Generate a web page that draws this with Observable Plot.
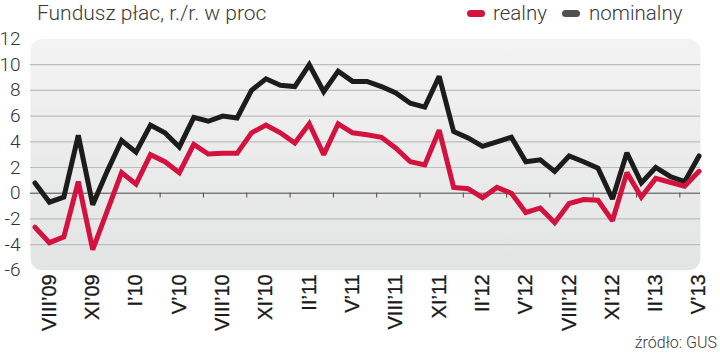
<!DOCTYPE html>
<html><head><meta charset="utf-8">
<script src="https://cdn.jsdelivr.net/npm/d3@7"></script>
<script src="https://cdn.jsdelivr.net/npm/@observablehq/plot@0.6"></script>
<style>
body{margin:0;background:#fff;}
#wrap{position:relative;width:720px;height:354px;overflow:hidden;font-family:Roboto,"Open Sans",sans-serif;font-weight:300;color:#3a3a3a;}
#wrap svg{position:absolute;left:0;top:0;}
.t{position:absolute;white-space:nowrap;line-height:20px;}
#title{left:37px;top:3px;font-size:21px;}
#caption{right:3px;top:335px;font-size:16px;line-height:16px;}
.pill{position:absolute;width:18px;height:7px;border-radius:3.5px;top:10px;}
</style></head><body><div id="wrap"></div>
<script>
// Months: VII'09 .. V'13 (47 monthly points)
const months = d3.utcMonths(new Date(Date.UTC(2009, 6, 1)), new Date(Date.UTC(2013, 5, 1)));
const nominalny = [0.8, -0.7, -0.3, 4.5, -0.9, 1.7, 4.1, 3.2, 5.3, 4.7,
  3.6, 5.9, 5.6, 6.0, 5.85, 8.0, 8.9, 8.4, 8.3, 10.0,
  7.9, 9.5, 8.7, 8.7, 8.3, 7.8, 7.0, 6.7, 9.1, 4.8,
  4.3, 3.65, 4.0, 4.35, 2.45, 2.6, 1.7, 2.9, 2.45, 1.95,
  -0.45, 3.15, 0.8, 2.0, 1.3, 0.9, 2.9];
const realny = [-2.65, -3.85, -3.4, 0.9, -4.4, -1.4, 1.6, 0.7, 3.0, 2.45,
  1.6, 3.8, 3.05, 3.1, 3.1, 4.7, 5.3, 4.7, 3.9, 5.4,
  3.0, 5.4, 4.7, 4.55, 4.35, 3.5, 2.45, 2.2, 4.9, 0.45,
  0.35, -0.35, 0.45, 0.0, -1.5, -1.15, -2.3, -0.8, -0.5, -0.55,
  -2.15, 1.6, -0.3, 1.15, 0.85, 0.55, 1.7];
const tickLabels = ["VIII’09","XI’09","I’10","V’10","VIII’10","XI’10","II’11","V’11",
  "VIII’11","XI’11","II’12","V’12","VIII’12","XI’12","II’13","V’13"];
const tickMonths = ["2009-08","2009-11","2010-02","2010-05","2010-08","2010-11","2011-02","2011-05",
  "2011-08","2011-11","2012-02","2012-05","2012-08","2012-11","2013-02","2013-05"];
const yTicks = [-6, -4, -2, 0, 2, 4, 6, 8, 10, 12];
const series = ["realny", "nominalny"];
const colors = ["#d3123f", "#1c1c1c"];

const monthKey = d => d3.utcFormat("%Y-%m")(d);
const data = [
  ...months.map((m, i) => ({i, v: nominalny[i], s: "nominalny"})),
  ...months.map((m, i) => ({i, v: realny[i], s: "realny"}))
];
const labelData = tickLabels.map((t, k) => ({t, i: months.findIndex(m => monthKey(m) === tickMonths[k])}));
// small tick marks on the zero line, between labelled months
const zeroTicks = labelData.slice(3).map(d => d.i - 1.33);

const plot = Plot.plot({
  width: 720, height: 354,
  marginTop: 38.5, marginBottom: 84.2, marginLeft: 30, marginRight: 20,
  x: {domain: [-0.31, 46.1], axis: null},
  y: {domain: [-6, 12], axis: null},
  color: {domain: series, range: colors},
  style: {background: "transparent", overflow: "visible"},
  marks: [
    Plot.frame({fill: "url(#bg)", stroke: "none", rx: 12}),
    Plot.ruleY(yTicks.filter(d => d !== 0 && d !== -6 && d !== 12), {stroke: "#bdbdbd", strokeWidth: 1.2}),
    Plot.ruleY([0], {stroke: "#4a4a4a", strokeWidth: 1}),
    Plot.ruleX(zeroTicks, {y1: 0, y2: -0.38, stroke: "#4a4a4a", strokeWidth: 1}),
    Plot.line(data.filter(d => d.s === "nominalny"), {x: "i", y: "v", stroke: "s", strokeWidth: 5, strokeLinejoin: "miter", strokeMiterlimit: 2}),
    Plot.line(data.filter(d => d.s === "realny"), {x: "i", y: "v", stroke: "s", strokeWidth: 5, strokeLinejoin: "miter", strokeMiterlimit: 2}),
    Plot.text(yTicks, {y: d => d, text: d => String(d), frameAnchor: "left", dx: -10, textAnchor: "end",
      fontFamily: "Roboto", fontWeight: 300, fontSize: 19, fill: "#333"}),
    Plot.text(labelData, {x: "i", y: -6, text: "t", rotate: -90, textAnchor: "end", lineAnchor: "middle", dy: 4,
      fontFamily: "Liberation Sans", fontSize: 20, fill: "#1a1a1a", stroke: "#1a1a1a", strokeWidth: 0.3})
  ]
});
d3.select(plot).insert("defs", ":first-child").html(
  '<linearGradient id="bg" x1="0" y1="0" x2="0" y2="1"><stop offset="0" stop-color="#f3f3f3"/><stop offset="1" stop-color="#e3e4e4"/></linearGradient>');

const wrap = document.getElementById("wrap");
wrap.appendChild(plot);

const title = document.createElement("div");
title.className = "t"; title.id = "title"; title.textContent = "Fundusz płac, r./r. w proc";
wrap.appendChild(title);

const legendPos = [{pill: 467, text: 493}, {pill: 562, text: 589}];
series.forEach((s, k) => {
  const p = document.createElement("div");
  p.className = "pill"; p.style.left = legendPos[k].pill + "px";
  p.style.background = k === 0 ? colors[0] : "#505050";
  wrap.appendChild(p);
  const t = document.createElement("div");
  t.className = "t"; t.style.left = legendPos[k].text + "px"; t.style.top = "3px"; t.style.fontSize = "20.5px";
  t.textContent = s;
  wrap.appendChild(t);
});

const cap = document.createElement("div");
cap.className = "t"; cap.id = "caption"; cap.textContent = "źródło: GUS";
wrap.appendChild(cap);
</script></body></html>
